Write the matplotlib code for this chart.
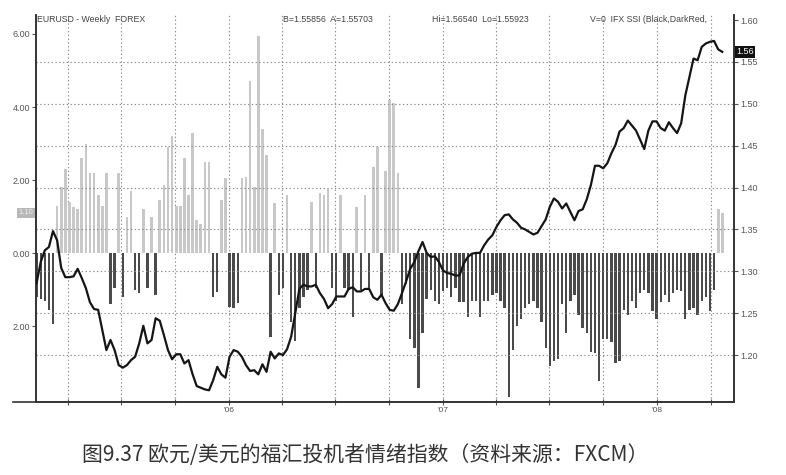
import matplotlib
matplotlib.use('Agg')
import matplotlib.pyplot as plt
import matplotlib.dates as mdates
import matplotlib.transforms as mtrans
from matplotlib.lines import Line2D
import numpy as np
import pandas as pd

plt.rcParams['font.family'] = ['Liberation Sans', 'DejaVu Sans']

# weekly EUR/USD close and FXCM speculative sentiment index (SSI)
weeks = pd.date_range('2005-02-07', periods=168, freq='7D')

price = [
    1.286, 1.311, 1.325, 1.329, 1.348, 1.337, 1.304, 1.293, 1.293, 1.294,
    1.303, 1.292, 1.280, 1.263, 1.255, 1.254, 1.230, 1.206, 1.218, 1.206,
    1.188, 1.185, 1.188, 1.194, 1.198, 1.214, 1.235, 1.214, 1.218, 1.244,
    1.241, 1.224, 1.206, 1.195, 1.201, 1.201, 1.190, 1.194, 1.177, 1.163,
    1.161, 1.159, 1.158, 1.170, 1.186, 1.177, 1.173, 1.198, 1.206, 1.204,
    1.198, 1.188, 1.181, 1.182, 1.177, 1.189, 1.180, 1.204, 1.196, 1.202,
    1.200, 1.207, 1.222, 1.250, 1.279, 1.284, 1.282, 1.282, 1.284, 1.274,
    1.267, 1.256, 1.261, 1.270, 1.270, 1.270, 1.279, 1.281, 1.276, 1.276,
    1.279, 1.279, 1.269, 1.266, 1.272, 1.262, 1.254, 1.253, 1.261, 1.274,
    1.288, 1.303, 1.311, 1.324, 1.335, 1.322, 1.317, 1.318, 1.311, 1.301,
    1.298, 1.297, 1.295, 1.295, 1.309, 1.317, 1.321, 1.322, 1.322, 1.331,
    1.338, 1.343, 1.353, 1.361, 1.367, 1.368, 1.362, 1.358, 1.352, 1.350,
    1.347, 1.344, 1.346, 1.354, 1.362, 1.377, 1.387, 1.383, 1.375, 1.381,
    1.371, 1.361, 1.372, 1.374, 1.386, 1.403, 1.426, 1.426, 1.423, 1.429,
    1.441, 1.451, 1.467, 1.471, 1.480, 1.474, 1.468, 1.457, 1.446, 1.468,
    1.479, 1.479, 1.471, 1.468, 1.478, 1.471, 1.465, 1.477, 1.510, 1.532,
    1.554, 1.552, 1.568, 1.572, 1.574, 1.575, 1.565, 1.562,
]

ssi = [
    -1.20, -1.25, -1.30, -1.55, -1.95, 1.30, 1.80, 2.30, 1.40, 1.25,
    1.20, 2.60, 3.00, 2.20, 2.20, 1.60, 1.30, 2.20, -1.40, -0.95,
    2.20, -1.20, 1.00, 1.70, -1.00, -1.10, 1.20, -0.95, 1.00, -1.15,
    1.45, 1.85, 2.90, 3.20, 1.30, 1.30, 2.60, 1.60, 3.30, 0.90,
    0.80, 2.50, 2.50, -1.20, -1.07, 1.45, 2.05, -1.48, -1.51, -1.37,
    2.05, 2.08, 4.70, 1.80, 5.95, 3.40, 2.68, -2.30, 1.37, -1.15,
    -0.96, 1.60, -1.90, -2.40, -1.50, -1.20, -1.00, 1.40, -0.95, 1.65,
    1.60, 1.75, -0.95, -1.30, 1.60, -0.95, -1.00, -1.75, 1.25, -1.00,
    1.60, -0.95, 2.35, 2.90, -1.20, 2.25, 4.20, 4.10, 2.20, -1.40,
    -0.85, -2.35, -2.60, -3.70, -2.20, -1.25, -1.00, -1.30, -1.40, -1.05,
    -0.95, -1.20, -0.95, -1.35, -1.35, -1.75, -1.30, -1.30, -1.75, -1.30,
    -1.30, -1.15, -1.10, -1.30, -1.50, -3.95, -2.65, -2.00, -1.80, -1.50,
    -1.40, -1.30, -1.50, -1.90, -2.60, -3.10, -2.95, -2.90, -1.40, -2.20,
    -1.30, -1.15, -1.70, -2.05, -2.20, -2.70, -2.75, -3.50, -2.35, -2.35,
    -2.45, -3.00, -2.95, -1.55, -1.70, -1.30, -1.50, -1.10, -1.00, -1.10,
    -1.60, -1.80, -1.35, -1.15, -1.35, -1.10, -1.00, -1.05, -1.80, -1.55,
    -1.50, -1.70, -1.30, -1.20, -1.60, -1.00, 1.20, 1.10,
]

ssi_ticks = [6, 4, 2, 0, -2]
ssi_labels = ['6.00', '4.00', '2.00', '0.00', '2.00']
price_ticks = [1.20, 1.25, 1.30, 1.35, 1.40, 1.45, 1.50, 1.55, 1.60]
price_grid = [1.20, 1.25, 1.30, 1.35, 1.40, 1.45, 1.50, 1.55]

caption = '图9.37 欧元/美元的福汇投机者情绪指数（资料来源：FXCM）'
header = [('EURUSD - Weekly  FOREX', 37),
          ('B=1.55856  A=1.55703', 283),
          ('Hi=1.56540  Lo=1.55923', 432),
          ('V=0  IFX SSI (Black,DarkRed,', 590)]

W, H = 786, 475
fig = plt.figure(figsize=(W / 100, H / 100), dpi=100)
ax = fig.add_axes([36 / W, 1 - 402 / H, (734 - 36) / W, (402 - 15) / H])
ax2 = ax.twinx()

ssi = np.array(ssi)
up = ssi > 0
ax.bar(weeks[up], ssi[up], width=4.6, color='#c8c8c8', lw=0, zorder=2)
ax.bar(weeks[~up], ssi[~up], width=4.0, color='#4a4a4a', lw=0, zorder=2)
ax.set_ylim(-4.08, 6.52)
ax.set_xlim(weeks[0] - pd.Timedelta(days=1), weeks[0] + pd.Timedelta(days=1189))

ax2.plot(weeks, price, color='#151515', lw=1.6, zorder=5)
ax2.set_ylim(1.144, 1.606)
for g in price_grid:
    ax2.axhline(g, color='#8a8a8a', lw=0.8, ls=(0, (1.2, 2.2)), zorder=1)

# quarterly grid, year labels on January
ax.xaxis.set_major_locator(mdates.MonthLocator(bymonth=[1, 4, 7, 10]))
ax.xaxis.set_major_formatter(plt.FuncFormatter(
    lambda v, pos: mdates.num2date(v).strftime("'%y") if mdates.num2date(v).month == 1 else ''))
ax.grid(axis='x', color='#8a8a8a', lw=0.8, ls=(0, (1.2, 2.2)), zorder=1)
ax.tick_params(axis='x', direction='inout', length=5, labelsize=6, pad=1,
               colors='#555555')

ax.set_yticks(ssi_ticks, ssi_labels)
ax.tick_params(axis='y', labelsize=6.5, length=3, pad=1, colors='#555555')
ax2.set_yticks(price_ticks, [f'{t:.2f}' for t in price_ticks])
ax2.tick_params(axis='y', labelsize=6.5, length=3, pad=1.5, colors='#555555')

for a in (ax, ax2):
    a.spines['top'].set_visible(False)
    for s in ('left', 'right', 'bottom'):
        a.spines[s].set_color('#333333')
        a.spines[s].set_linewidth(1.2)

# bottom line runs a little past the left axis
fig.add_artist(Line2D([13 / W, 36 / W], [1 - 402 / H, 1 - 402 / H],
                      color='#333333', lw=1.2))

# last-value boxes
tr2 = mtrans.blended_transform_factory(ax2.transAxes, ax2.transData)
ax2.text(1.003, price[-1], f'{price[-1]:.2f}', transform=tr2, ha='left',
         va='center', fontsize=6.5, color='white',
         bbox=dict(boxstyle='square,pad=0.15', fc='#111111', ec='none'))
tr1 = mtrans.blended_transform_factory(ax.transAxes, ax.transData)
ax.text(-0.004, ssi[-1], f'{ssi[-1]:.2f}', transform=tr1, ha='right',
        va='center', fontsize=5.5, color='#eeeeee', clip_on=False,
        bbox=dict(boxstyle='square,pad=0.2', fc='#b8b8b8', ec='none'))

for txt, xp in header:
    fig.text(xp / W, 1 - 19 / H, txt, fontsize=6.3, color='#444444',
             ha='left', va='center')

fig.text(365 / W, 1 - 455 / H, caption, ha='center', va='center',
         fontsize=15, color='#333333',
         family=['Noto Sans CJK SC', 'DejaVu Sans'])

fig.savefig('out.png', dpi=100)
